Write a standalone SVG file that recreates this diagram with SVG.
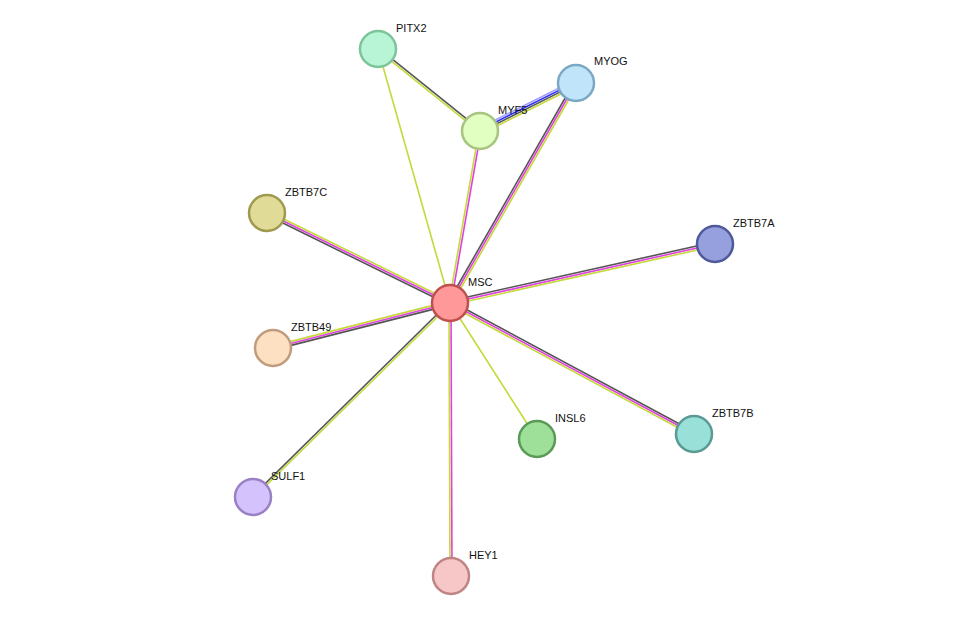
<svg xmlns="http://www.w3.org/2000/svg" width="975" height="622" viewBox="0 0 975 622">
<style>
.e line{stroke-width:1.6;fill:none}
.k{stroke:#555}.y{stroke:#c4d93a}.m{stroke:#e040e0}.b{stroke:#2a2aff}.lb{stroke:#a0a0ff}
circle{stroke-width:2.5}
text{font-family:"Liberation Sans",Arial,sans-serif;font-size:11px;fill:#111}
</style>
<rect width="975" height="622" fill="#fff"/>
<g id="connectors" class="e">
<line class="y" x1="378" y1="49" x2="450" y2="303"/>
<line class="k" x1="378.6" y1="48.2" x2="480.6" y2="130.2"/>
<line class="y" x1="377.4" y1="49.8" x2="479.4" y2="131.8"/>
<line class="lb" x1="478.7" y1="128.3" x2="574.7" y2="80.3"/>
<line class="b" x1="479.6" y1="130.1" x2="575.6" y2="82.1"/>
<line class="k" x1="480.4" y1="131.9" x2="576.4" y2="83.9"/>
<line class="y" x1="481.3" y1="133.7" x2="577.3" y2="85.7"/>
<line class="y" x1="479" y1="130.8" x2="449" y2="302.8"/>
<line class="m" x1="481" y1="131.2" x2="451" y2="303.2"/>
<line class="k" x1="574.3" y1="82" x2="448.3" y2="302"/>
<line class="m" x1="576" y1="83" x2="450" y2="303"/>
<line class="y" x1="577.7" y1="84" x2="451.7" y2="304"/>
<line class="y" x1="267.9" y1="211.2" x2="450.9" y2="301.2"/>
<line class="m" x1="267" y1="213" x2="450" y2="303"/>
<line class="k" x1="266.1" y1="214.8" x2="449.1" y2="304.8"/>
<line class="k" x1="714.6" y1="242" x2="449.6" y2="301"/>
<line class="m" x1="715" y1="244" x2="450" y2="303"/>
<line class="y" x1="715.4" y1="246" x2="450.4" y2="305"/>
<line class="y" x1="272.5" y1="346.1" x2="449.5" y2="301.1"/>
<line class="m" x1="273" y1="348" x2="450" y2="303"/>
<line class="k" x1="273.5" y1="349.9" x2="450.5" y2="304.9"/>
<line class="k" x1="252.3" y1="496.3" x2="449.3" y2="302.3"/>
<line class="y" x1="253.7" y1="497.7" x2="450.7" y2="303.7"/>
<line class="y" x1="449" y1="303" x2="450" y2="576"/>
<line class="m" x1="451" y1="303" x2="452" y2="576"/>
<line class="y" x1="450" y1="303" x2="537" y2="439"/>
<line class="k" x1="450.9" y1="301.2" x2="694.9" y2="432.2"/>
<line class="m" x1="450" y1="303" x2="694" y2="434"/>
<line class="y" x1="449.1" y1="304.8" x2="693.1" y2="435.8"/>
</g>
<g id="PITX2"><circle cx="378" cy="49" r="18" fill="#b8f5d6" stroke="#7cc49a"/><text x="396" y="32">PITX2</text></g>
<g id="MYOG"><circle cx="576" cy="83" r="18" fill="#c0e5fa" stroke="#7ba8c4"/><text x="594" y="65">MYOG</text></g>
<g id="MYF5"><circle cx="480" cy="131" r="18" fill="#e0ffc0" stroke="#a8c47f"/><text x="498" y="114">MYF5</text></g>
<g id="ZBTB7C"><circle cx="267" cy="213" r="18" fill="#e0dc98" stroke="#a09a50"/><text x="285" y="196">ZBTB7C</text></g>
<g id="ZBTB7A"><circle cx="715" cy="244" r="18" fill="#97a0de" stroke="#4f5a9a"/><text x="733" y="227">ZBTB7A</text></g>
<g id="MSC"><circle cx="450" cy="303" r="18" fill="#ff9999" stroke="#c0504d"/><text x="468" y="286">MSC</text></g>
<g id="ZBTB49"><circle cx="273" cy="348" r="18" fill="#fde0c2" stroke="#c09c7c"/><text x="291" y="331">ZBTB49</text></g>
<g id="INSL6"><circle cx="537" cy="439" r="18" fill="#9ee09a" stroke="#5a9a56"/><text x="555" y="422">INSL6</text></g>
<g id="ZBTB7B"><circle cx="694" cy="434" r="18" fill="#99e0d8" stroke="#5a9a94"/><text x="712" y="417">ZBTB7B</text></g>
<g id="SULF1"><circle cx="253" cy="497" r="18" fill="#d4c2fd" stroke="#9a80c4"/><text x="271" y="480">SULF1</text></g>
<g id="HEY1"><circle cx="451" cy="576" r="18" fill="#f7c6c6" stroke="#c08484"/><text x="469" y="559">HEY1</text></g>
</svg>
